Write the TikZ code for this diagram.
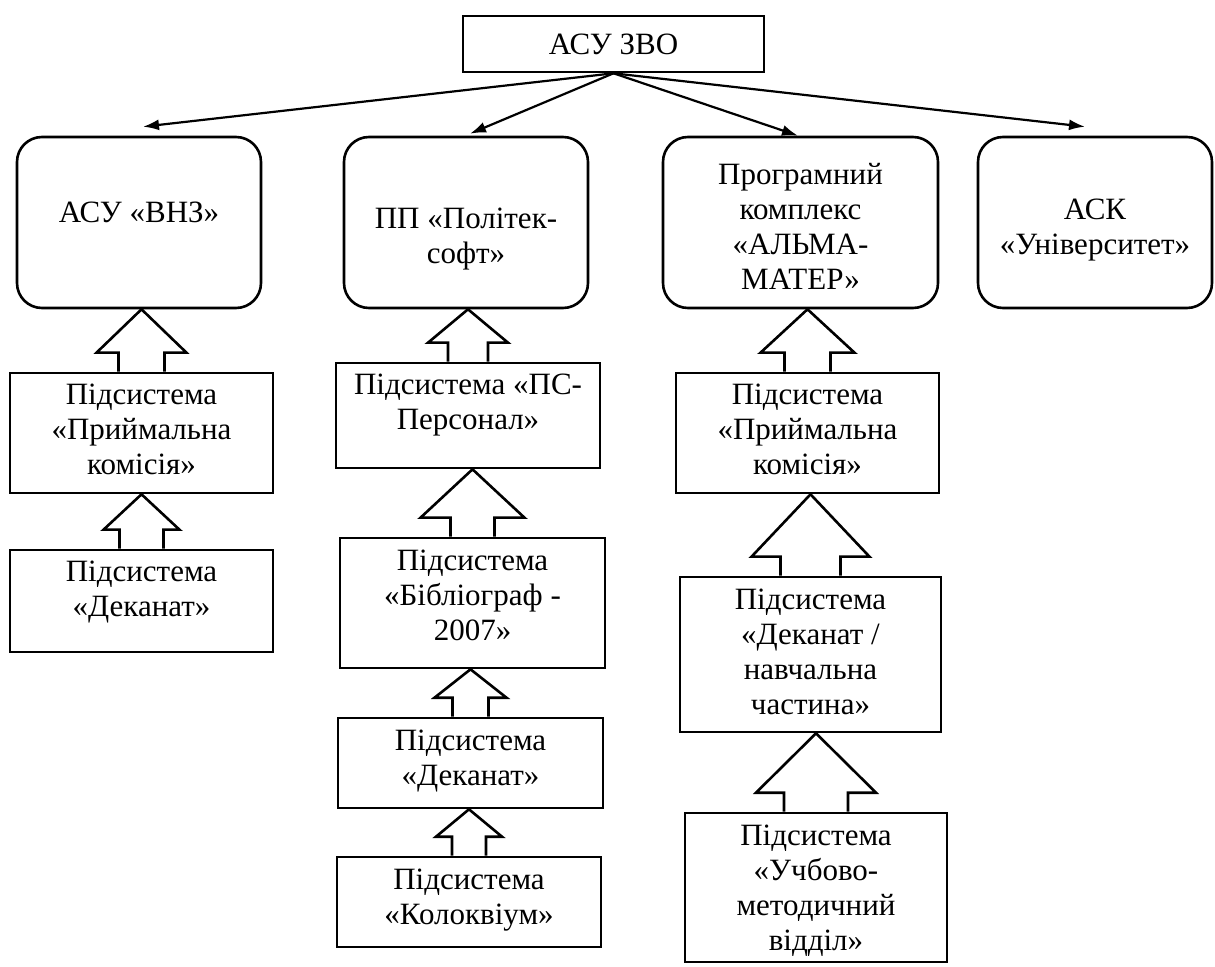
\documentclass[tikz,border=0pt]{standalone}
\usepackage{fontspec}
\setmainfont{Liberation Serif}
\usetikzlibrary{calc,arrows.meta}

% hollow up arrow from a lower box to the box above it
% #1 lower box, #2 upper box, #3 head half width, #4 shaft half width (px)
\newcommand{\subarrow}[4]{%
  \draw[hollow] let \p1=(#1.north), \p2=(#2.south) in
    (\x1-#4*0.5pt,\y1) -- (\x1-#4*0.5pt,\y1+9.5pt) -- (\x1-#3*0.5pt,\y1+9.5pt) -- (\x1,\y2)
    -- (\x1+#3*0.5pt,\y1+9.5pt) -- (\x1+#4*0.5pt,\y1+9.5pt) -- (\x1+#4*0.5pt,\y1);}

\begin{document}
\begin{tikzpicture}[x=0.5pt,y=-0.5pt,
    sysbox/.style={draw, rounded corners=12.5pt, line width=1.3pt, align=center, inner sep=0pt,
      font=\fontsize{15.5}{17.5}\selectfont},
    subbox/.style={draw, line width=1.3pt, align=center, inner sep=0pt,
      font=\fontsize{15.5}{17.5}\selectfont},
    link/.style={line width=1.1pt, -{Latex[length=8pt,width=5.5pt]}},
    hollow/.style={line width=1.3pt, line join=miter}]
	\useasboundingbox (0,0) rectangle (1215,967);

	% top level
	\node[draw, line width=1.3pt, inner sep=0pt, font=\fontsize{15.5}{17.5}\selectfont,
	  minimum width=150.5pt, minimum height=28pt] (top) at (613.5,44) {АСУ ЗВО};

	% systems (text height/depth: from the last line of text to the box edges)
	\node[sysbox, minimum width=122pt, text height=42.75pt, text depth=42.75pt] (b1) at (139,222.5) {АСУ «ВНЗ»};
	\node[sysbox, minimum width=122pt, text height=63.5pt, text depth=22pt] (b2) at (466,222.5) {ПП «Політек-\\софт»};
	\node[sysbox, minimum width=137.5pt, text height=76.5pt, text depth=9pt] (b3) at (800.5,222.5) {Програмний\\комплекс\\«АЛЬМА-\\МАТЕР»};
	\node[sysbox, minimum width=117pt, text height=59pt, text depth=26.5pt] (b4) at (1095,222.5) {АСК\\«Університет»};

	\draw[link] (top.south) -- ([shift={(4,-9)}]b1.north);
	\draw[link] (top.south) -- ([shift={(4,-2)}]b2.north);
	\draw[link] (top.south) -- ([shift={(-2.5,0)}]b3.north);
	\draw[link] (top.south) -- ([shift={(-10,-9)}]b4.north);

	% subsystems, column 1
	\node[subbox, minimum width=131.5pt, text height=51pt, text depth=9pt] (c1a) at (141.5,433) {Підсистема\\«Приймальна\\комісія»};
	\node[subbox, minimum width=131.5pt, text height=33.5pt, text depth=17.5pt] (c1b) at (141.5,601) {Підсистема\\«Деканат»};

	% subsystems, column 2
	\node[subbox, minimum width=132pt, text height=33.5pt, text depth=19pt] (c2a) at (468,415.5) {Підсистема «ПС-\\Персонал»};
	\node[subbox, minimum width=132.5pt, text height=51pt, text depth=14pt] (c2b) at (472.5,603) {Підсистема\\«Бібліограф -\\2007»};
	\node[subbox, minimum width=132.5pt, text height=33.5pt, text depth=11.5pt] (c2c) at (470.5,763) {Підсистема\\«Деканат»};
	\node[subbox, minimum width=132pt, text height=33.5pt, text depth=11.5pt] (c2d) at (469,902) {Підсистема\\«Колоквіум»};

	% subsystems, column 3
	\node[subbox, minimum width=131.5pt, text height=51pt, text depth=9pt] (c3a) at (807.5,433) {Підсистема\\«Приймальна\\комісія»};
	\node[subbox, minimum width=130.5pt, text height=68.5pt, text depth=9pt] (c3b) at (810.5,654.5) {Підсистема\\«Деканат /\\навчальна\\частина»};
	\node[subbox, minimum width=131pt, text height=68.5pt, text depth=6pt] (c3c) at (816,887.5) {Підсистема\\«Учбово-\\методичний\\відділ»};

	\subarrow{c1a}{b1}{45}{23}
	\subarrow{c1b}{c1a}{38}{22}
	\subarrow{c2a}{b2}{40}{20}
	\subarrow{c2b}{c2a}{52}{22}
	\subarrow{c2c}{c2b}{36}{18}
	\subarrow{c2d}{c2c}{33}{17}
	\subarrow{c3a}{b3}{47}{23}
	\subarrow{c3b}{c3a}{59}{30}
	\subarrow{c3c}{c3b}{60}{32}
\end{tikzpicture}
\end{document}
